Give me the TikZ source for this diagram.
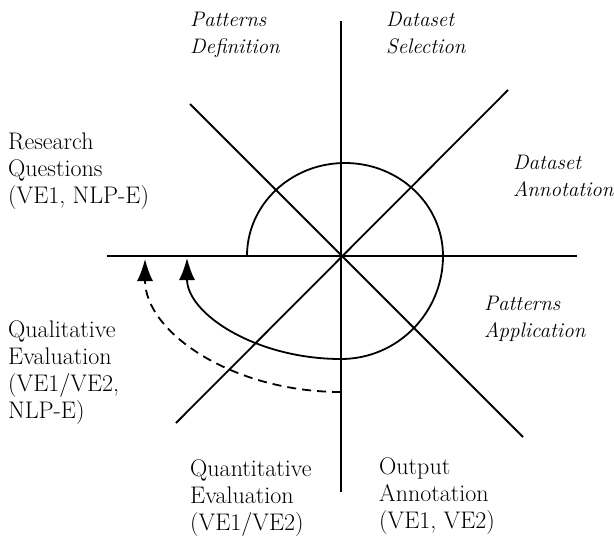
\documentclass[tikz,border=0pt]{standalone}
\usepackage{tikz}
\usetikzlibrary{arrows.meta}
\usetikzlibrary{calc}

\tikzset{
  axis/.style={line width=1.8pt},
  loopline/.style={line width=1.8pt},
  lbl/.style={anchor=base west, inner sep=0pt, align=left, font=\fontsize{24}{27}\selectfont},
  ilbl/.style={lbl, font=\fontsize{21}{27}\selectfont\itshape},
  tip/.style={-{Latex[length=22pt,width=16pt]}}
}

\begin{document}
\begin{tikzpicture}[x=1pt,y=-1pt]
\useasboundingbox (0,0) rectangle (614,538);

% centre and axis ends
\coordinate (O) at (341,256);
\coordinate (N) at (341,21);
\coordinate (S) at (341,492);
\coordinate (W) at (107,256);
\coordinate (E) at (577,256);
\coordinate (NW) at (190,104);
\coordinate (SE) at (523,437);
\coordinate (NE) at (508,90);
\coordinate (SW) at (176,423);

% axes
\draw [axis] (N) -- (S);
\draw [axis] (W) -- (E);
\draw [axis] (NW) -- (SE);
\draw [axis] (NE) -- (SW);

% loop
\coordinate (start) at (247,256);
\draw [loopline, tip] (start)
  arc [start angle=180, end angle=360, x radius=98, y radius=93]
  arc [start angle=0, end angle=90, x radius=102, y radius=103]
  arc [start angle=90, end angle=180, x radius=154, y radius=101];

% dashed return
\coordinate (back) at (341,392);
\draw [loopline, tip, dash pattern=on 9pt off 6pt] (back)
  arc [start angle=90, end angle=180, x radius=196, y radius=133];

% labels (placed at the baseline of the last line)
\node [ilbl] (pdef) at (190,53) {Patterns\\Definition};
\node [ilbl] (dsel) at (386,53) {Dataset\\Selection};
\node [ilbl] (dann) at (513,196) {Dataset\\Annotation};
\node [ilbl] (papp) at (484,337) {Patterns\\Application};
\node [lbl] (rq) at (8,203) {Research\\Questions\\(VE1, NLP-E)};
\node [lbl] (qual) at (8,418) {Qualitative\\Evaluation\\(VE1/VE2,\\NLP-E)};
\node [lbl] (quant) at (190,530) {Quantitative\\Evaluation\\(VE1/VE2)};
\node [lbl] (out) at (379,528) {Output\\Annotation\\(VE1, VE2)};

\end{tikzpicture}
\end{document}
